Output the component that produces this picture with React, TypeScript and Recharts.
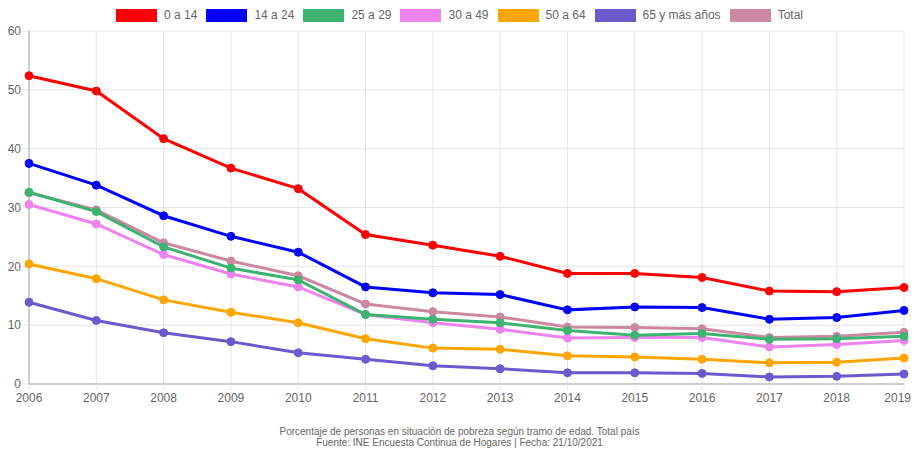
import { CartesianGrid, Line, LineChart, XAxis, YAxis } from "recharts";

const years = [
  "2006", "2007", "2008", "2009", "2010", "2011", "2012",
  "2013", "2014", "2015", "2016", "2017", "2018", "2019",
];

const age0to14 = [52.4, 49.8, 41.7, 36.7, 33.2, 25.4, 23.6, 21.7, 18.8, 18.8, 18.1, 15.8, 15.7, 16.4];
const age14to24 = [37.5, 33.8, 28.6, 25.1, 22.4, 16.5, 15.5, 15.2, 12.6, 13.1, 13.0, 11.0, 11.3, 12.5];
const age25to29 = [32.6, 29.3, 23.3, 19.7, 17.7, 11.8, 11.0, 10.4, 9.1, 8.3, 8.6, 7.6, 7.7, 8.1];
const age30to49 = [30.5, 27.2, 22.0, 18.7, 16.5, 11.8, 10.4, 9.3, 7.8, 7.9, 7.9, 6.3, 6.7, 7.4];
const age50to64 = [20.4, 17.9, 14.3, 12.2, 10.4, 7.7, 6.1, 5.9, 4.8, 4.6, 4.2, 3.6, 3.7, 4.4];
const age65plus = [13.9, 10.8, 8.7, 7.2, 5.3, 4.2, 3.1, 2.6, 1.9, 1.9, 1.8, 1.2, 1.3, 1.7];
const total = [32.5, 29.6, 24.0, 20.9, 18.4, 13.6, 12.3, 11.4, 9.7, 9.6, 9.4, 7.9, 8.1, 8.8];

const yTicks = [0, 10, 20, 30, 40, 50, 60];

// legend order
const series = [
  { key: "a", name: "0 a 14", color: "#ff0000", values: age0to14 },
  { key: "b", name: "14 a 24", color: "#0000ff", values: age14to24 },
  { key: "c", name: "25 a 29", color: "#3cb371", values: age25to29 },
  { key: "d", name: "30 a 49", color: "#ee82ee", values: age30to49 },
  { key: "e", name: "50 a 64", color: "#ffa500", values: age50to64 },
  { key: "f", name: "65 y más años", color: "#6a5acd", values: age65plus },
  { key: "g", name: "Total", color: "#cc88a0", values: total },
];

const data = years.map((year, i) => {
  const row: Record<string, string | number> = { year };
  series.forEach((s) => {
    row[s.key] = s.values[i];
  });
  return row;
});

const FONT = "Arial, 'Liberation Sans', Helvetica, sans-serif";

// the page clips at the body margin, so the last year label is pulled in to stay whole
const YearTick = ({ x, y, payload, index }: any) => {
  const last = index === years.length - 1;
  return (
    <text
      x={last ? x + 7 : x}
      y={y + 10}
      textAnchor={last ? "end" : "middle"}
      fill="#666"
      fontSize={12}
      fontFamily={FONT}
    >
      {payload.value}
    </text>
  );
};

export default function App() {
  // first dataset drawn on top, like the original
  const drawOrder = [...series].reverse();

  return (
    <div style={{ position: "relative", width: 919, height: 459, margin: -8, fontFamily: FONT }}>
      <div
        style={{
          position: "absolute",
          top: 8,
          left: 0,
          width: 919,
          display: "flex",
          justifyContent: "center",
          gap: 9,
          fontSize: 12,
          color: "#666",
          lineHeight: "14px",
        }}
      >
        {series.map((s) => (
          <div key={s.key} style={{ display: "flex", alignItems: "center" }}>
            <span
              style={{
                display: "inline-block",
                width: 41,
                height: 13,
                background: s.color,
                marginRight: 7,
              }}
            />
            <span>{s.name}</span>
          </div>
        ))}
      </div>

      <LineChart
        width={919}
        height={410}
        data={data}
        margin={{ top: 31, right: 15, left: 0, bottom: 0 }}
        style={{ position: "absolute", top: 0, left: 0 }}
      >
        <CartesianGrid stroke="#e5e5e5" />
        <XAxis
          dataKey="year"
          height={26}
          tickSize={6}
          tickLine={{ stroke: "#e5e5e5" }}
          axisLine={{ stroke: "#aaa" }}
          tick={<YearTick />}
          interval={0}
        />
        <YAxis
          width={29}
          domain={[0, 60]}
          ticks={yTicks}
          tickSize={6}
          tickLine={{ stroke: "#e5e5e5" }}
          axisLine={{ stroke: "#aaa" }}
          tick={{ fill: "#666", fontSize: 12, fontFamily: FONT }}
        />
        {drawOrder.map((s) => (
          <Line
            key={s.key}
            dataKey={s.key}
            name={s.name}
            type="linear"
            stroke={s.color}
            strokeWidth={3}
            dot={{ r: 4, fill: s.color, stroke: s.color, strokeWidth: 1 }}
            isAnimationActive={false}
          />
        ))}
      </LineChart>

      <div
        style={{
          position: "absolute",
          top: 426,
          left: 0,
          width: 919,
          textAlign: "center",
          fontSize: 10,
          lineHeight: "11px",
          color: "#666",
        }}
      >
        <div>Porcentaje de personas en situación de pobreza según tramo de edad. Total país</div>
        <div>Fuente: INE Encuesta Continua de Hogares | Fecha: 21/10/2021</div>
      </div>
    </div>
  );
}
